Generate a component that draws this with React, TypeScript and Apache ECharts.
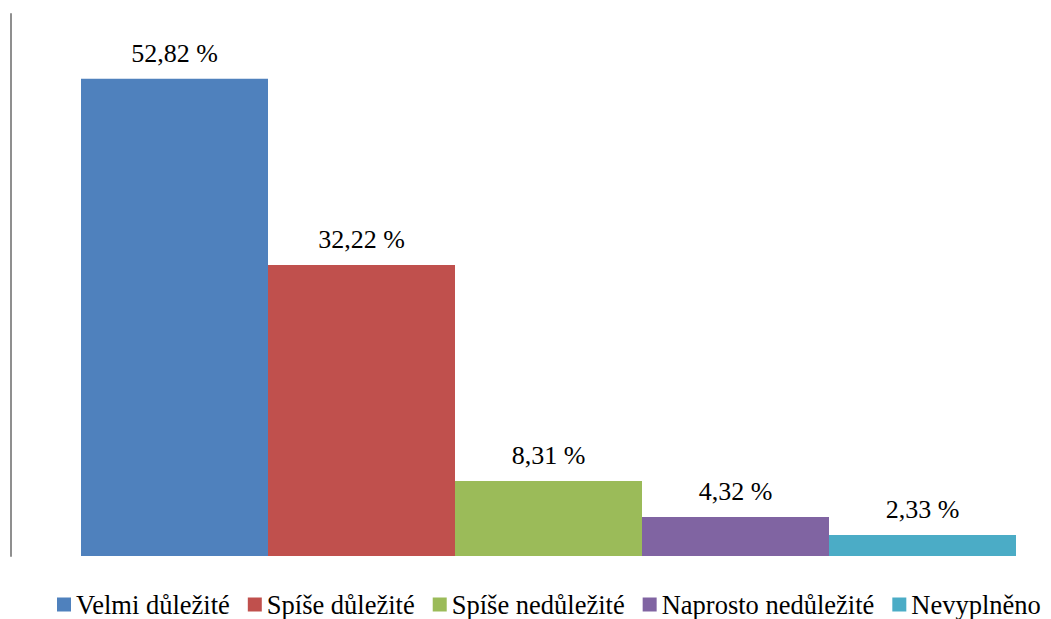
import React, { useEffect, useRef } from "react";
import * as echarts from "echarts";

// Answer categories and their shares (percent)
const categories: string[] = [
  "Velmi důležité",
  "Spíše důležité",
  "Spíše nedůležité",
  "Naprosto nedůležité",
  "Nevyplněno",
];
const shares: number[] = [52.82, 32.22, 8.31, 4.32, 2.33];
const colors: string[] = ["#4F81BD", "#C0504D", "#9BBB59", "#8064A2", "#4BACC6"];

const FONT = "Liberation Serif";

const formatPct = (v: number) => v.toFixed(2).replace(".", ",") + " %";

export default function App() {
  const ref = useRef<HTMLDivElement>(null);

  useEffect(() => {
    if (!ref.current) return;
    const chart = echarts.init(ref.current, undefined, { renderer: "svg" });

    const series = categories.map((name, i) => ({
      name,
      type: "bar" as const,
      data: [shares[i]],
      itemStyle: { color: colors[i] },
      barGap: "0%",
      barCategoryGap: "0%",
      label: {
        show: true,
        position: "top" as const,
        distance: 12,
        formatter: (p: any) => formatPct(p.value as number),
        fontFamily: FONT,
        fontSize: 26,
        color: "#000",
      },
    }));

    chart.setOption({
      animation: false,
      backgroundColor: "#fff",
      textStyle: { fontFamily: FONT },
      grid: { left: 81, right: 35, top: 14, bottom: 63 },
      xAxis: {
        type: "category",
        data: ["all"],
        axisLine: { show: false },
        axisTick: { show: false },
        axisLabel: { show: false },
      },
      yAxis: {
        type: "value",
        min: 0,
        max: 60,
        offset: 70,
        axisLine: { show: true, lineStyle: { color: "#8f8f8f", width: 2 } },
        axisTick: { show: false },
        axisLabel: { show: false },
        splitLine: { show: false },
      },
      legend: {
        data: categories,
        left: 57,
        top: 591,
        width: 1100,
        padding: 0,
        itemWidth: 14,
        itemHeight: 14,
        itemGap: 18,
        icon: "rect",
        textStyle: { fontFamily: FONT, fontSize: 26.5, color: "#000" },
      },
      series,
    });

    return () => chart.dispose();
  }, []);

  return (
    <div
      ref={ref}
      style={{ position: "fixed", left: 0, top: 0, width: 1051, height: 619 }}
    />
  );
}
